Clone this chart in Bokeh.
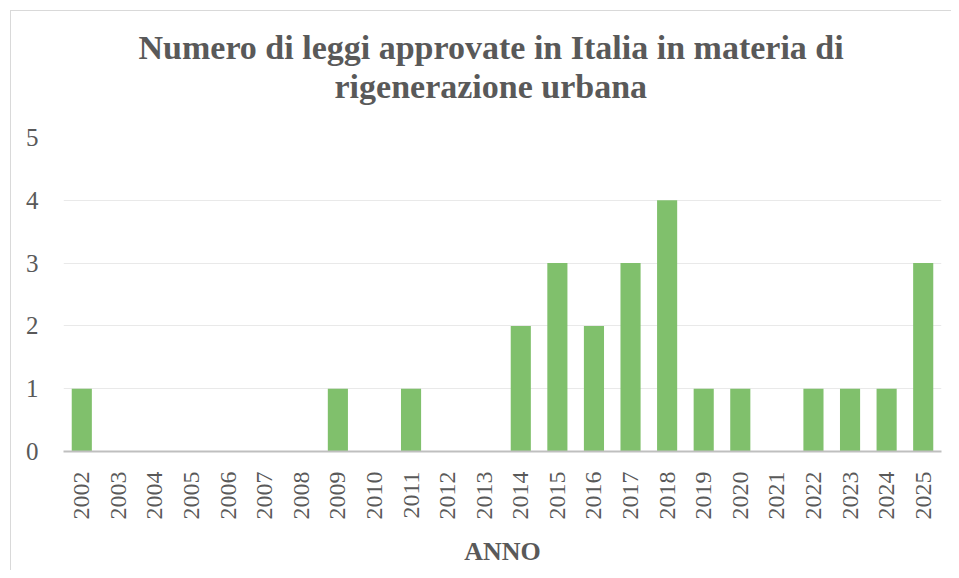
from math import pi
from bokeh.plotting import figure
from bokeh.models import Title, FactorRange, Range1d, ColumnDataSource, FixedTicker
from bokeh.embed import file_html
from bokeh.resources import INLINE

years = [str(y) for y in range(2002, 2026)]
laws = [1, 0, 0, 0, 0, 0, 0, 1, 0, 1, 0, 0, 2, 3, 2, 3, 4, 1, 1, 0, 1, 1, 1, 3]
y_ticks = [0, 1, 2, 3, 4, 5]
title_line1 = "Numero di leggi approvate in Italia in materia di"
title_line2 = "rigenerazione urbana"
x_title = "ANNO"

FONT = "Liberation Serif"
TXT = "#595959"

src = ColumnDataSource(dict(x=years, top=laws))

p = figure(width=951, height=570, output_backend="svg", toolbar_location=None,
           x_range=FactorRange(*years), y_range=Range1d(0, 5),
           min_border_left=63, min_border_right=10, min_border_top=137,
           min_border_bottom=119)
p.title.text = ""
p.title.visible = False

p.vbar(x="x", top="top", width=0.55, source=src, fill_color="#80c06c", line_color=None)

spacer = Title(text=" ", text_font_size="19px", align="center")
t2 = Title(text=title_line2, text_font=FONT, text_font_size="34px", text_font_style="bold",
           text_color=TXT, align="left", standoff=0, offset=271)
t1 = Title(text=title_line1, text_font=FONT, text_font_size="34px", text_font_style="bold",
           text_color=TXT, align="left", standoff=0, offset=75)
p.add_layout(spacer, "above")
p.add_layout(t2, "above")
p.add_layout(t1, "above")

p.outline_line_color = None
p.background_fill_color = "white"
p.border_fill_color = None
p.xgrid.grid_line_color = None
p.ygrid.grid_line_color = "#e9e9e9"
p.ygrid.grid_line_width = 1

p.yaxis.ticker = FixedTicker(ticks=y_ticks)
p.yaxis.axis_line_color = None
p.yaxis.major_tick_line_color = None
p.yaxis.minor_tick_line_color = None
p.yaxis.major_label_text_font = FONT
p.yaxis.major_label_text_font_size = "25px"
p.yaxis.major_label_text_color = TXT
p.yaxis.major_label_standoff = 19

p.xaxis.axis_line_color = "#bfbfbf"
p.xaxis.axis_line_width = 2
p.xaxis.major_tick_line_color = None
p.xaxis.minor_tick_line_color = None
p.xaxis.major_label_orientation = pi / 2
p.xaxis.major_label_text_font = FONT
p.xaxis.major_label_text_font_size = "24px"
p.xaxis.major_label_text_color = TXT
p.xaxis.major_label_standoff = 14
p.xaxis.axis_label = x_title
p.xaxis.axis_label_text_font = FONT
p.xaxis.axis_label_text_font_size = "26px"
p.xaxis.axis_label_text_font_style = "bold"
p.xaxis.axis_label_text_color = TXT
p.xaxis.axis_label_standoff = 14

p.styles = {
    "background-color": "white",
    "background-image": "linear-gradient(#d9d9d9, #d9d9d9), linear-gradient(#d9d9d9, #d9d9d9)",
    "background-size": "1px 100%, 100% 1px",
    "background-position": "10px 10px, 10px 10px",
    "background-repeat": "no-repeat",
}

open("out.html", "w").write(file_html(p, INLINE))
